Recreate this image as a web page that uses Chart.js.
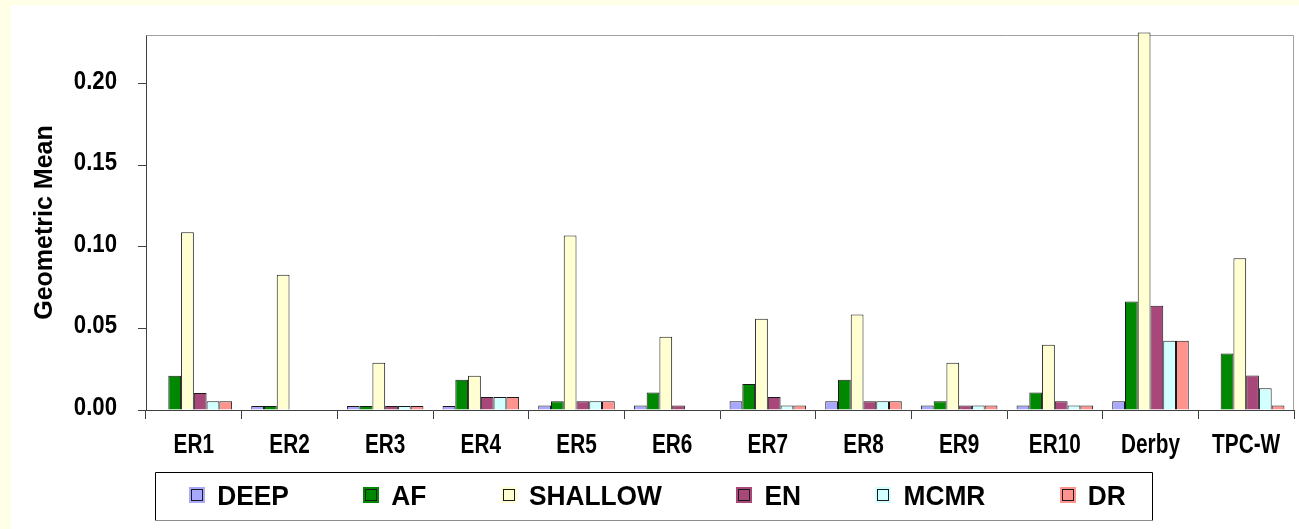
<!DOCTYPE html>
<html>
<head>
<meta charset="utf-8">
<title>Geometric Mean by workload</title>
<script src="https://cdn.jsdelivr.net/npm/chart.js@4.4.1/dist/chart.umd.min.js"></script>
<style>
  html, body { margin: 0; padding: 0; background: #ffffff; }
  canvas { display: block; }
</style>
</head>
<body>
<canvas id="chart" width="1299" height="529"></canvas>
<script>
// Workloads along the x axis
const categories = ['ER1', 'ER2', 'ER3', 'ER4', 'ER5', 'ER6', 'ER7', 'ER8', 'ER9', 'ER10', 'Derby', 'TPC-W'];

// Geometric mean per technique
const deep    = [0,      0.0025, 0.0025, 0.0025, 0.0027, 0.0027, 0.0053, 0.0053, 0.0027, 0.0027, 0.0053, 0];
const af      = [0.021,  0.0025, 0.0025, 0.0186, 0.0053, 0.0107, 0.016,  0.0186, 0.0053, 0.0107, 0.0666, 0.0347];
const shallow = [0.109,  0.083,  0.029,  0.021,  0.107,  0.045,  0.056,  0.0586, 0.029,  0.040,  0.2315, 0.093];
const en      = [0.0104, 0,      0.0025, 0.008,  0.0053, 0.0027, 0.008,  0.0053, 0.0027, 0.0053, 0.064,  0.0212];
const mcmr    = [0.0053, 0,      0.0025, 0.008,  0.0053, 0,      0.0027, 0.0053, 0.0027, 0.0027, 0.0425, 0.0133];
const dr      = [0.0053, 0,      0.0025, 0.008,  0.0053, 0,      0.0027, 0.0053, 0.0027, 0.0027, 0.0425, 0.0027];

const seriesNames = ['DEEP', 'AF', 'SHALLOW', 'EN', 'MCMR', 'DR'];
const seriesValues = [deep, af, shallow, en, mcmr, dr];
const seriesFills = ['#A8A8FF', '#008800', '#FFFFD2', '#A8487A', '#D2FFFF', '#FF948E'];

// Value axis
const yTicks = [0, 0.05, 0.10, 0.15, 0.20];
const yMax = 0.23;
const yTitle = 'Geometric Mean';

const SANS = "'Liberation Sans', Arial, sans-serif";

// Draws text squeezed horizontally by sx, anchored at (x, y)
function drawScaledText(ctx, text, x, y, sx, align) {
  ctx.save();
  ctx.translate(x, y);
  ctx.scale(sx, 1);
  ctx.textAlign = align;
  ctx.textBaseline = 'alphabetic';
  ctx.fillText(text, 0, 0);
  ctx.restore();
}

// Cream page with a white panel behind the chart
const pageBackground = {
  id: 'pageBackground',
  beforeDraw(chart) {
    const { ctx, width, height } = chart;
    ctx.save();
    ctx.fillStyle = '#FFFFE6';
    ctx.fillRect(0, 0, width, height);
    ctx.fillStyle = '#FFFFFF';
    ctx.fillRect(10, 5, width - 10, height - 5);
    ctx.restore();
  }
};

// Light frame on the top and right of the plot area
const plotFrame = {
  id: 'plotFrame',
  beforeDatasetsDraw(chart) {
    const { ctx, chartArea: a } = chart;
    ctx.save();
    ctx.strokeStyle = '#A0A0A0';
    ctx.lineWidth = 1;
    ctx.beginPath();
    ctx.moveTo(Math.round(a.left) + 0.5, Math.round(a.top) + 0.5);
    ctx.lineTo(Math.round(a.right) - 0.5, Math.round(a.top) + 0.5);
    ctx.lineTo(Math.round(a.right) - 0.5, Math.round(a.bottom));
    ctx.stroke();
    ctx.restore();
  }
};

// Condensed tick labels placed at the scales' own tick positions
const tickLabels = {
  id: 'tickLabels',
  afterDraw(chart) {
    const { ctx, scales: { x, y } } = chart;
    ctx.save();
    ctx.fillStyle = '#000000';
    ctx.font = 'bold 27px ' + SANS;
    x.ticks.forEach((t, i) => {
      drawScaledText(ctx, chart.data.labels[t.value], x.getPixelForTick(i), x.top + 43, 0.77, 'center');
    });
    ctx.font = 'bold 25.5px ' + SANS;
    y.ticks.forEach(t => {
      drawScaledText(ctx, t.value.toFixed(2), y.right - 29, y.getPixelForValue(t.value) + 4.9, 0.87, 'right');
    });
    ctx.restore();
  }
};

// Boxed single-row legend under the axis
const legendRow = {
  id: 'legendRow',
  afterDraw(chart) {
    const { ctx } = chart;
    const sx = 0.94;
    const marker = 16, markerGap = 12, itemGap = 74.5;
    const centerX = 657.5, textBase = 504.5, markerTop = 487;
    const boxTop = 472, boxBottom = 520, padLeft = 34, padRight = 26;
    ctx.save();
    ctx.font = 'bold 28px ' + SANS;
    const items = chart.data.datasets.map(ds => ({
      label: ds.label, fill: ds.backgroundColor, w: ctx.measureText(ds.label).width * sx
    }));
    const rowWidth = items.reduce((s, it) => s + marker + markerGap + it.w, 0) + itemGap * (items.length - 1);
    let x = centerX - rowWidth / 2;
    const left = Math.round(x - padLeft) + 0.5;
    const right = Math.round(x + rowWidth + padRight) + 0.5;
    ctx.fillStyle = '#FFFFFF';
    ctx.fillRect(left, boxTop, right - left, boxBottom - boxTop);
    ctx.lineWidth = 1;
    ctx.strokeStyle = '#000000';
    ctx.beginPath();
    ctx.moveTo(left, boxBottom + 0.5);
    ctx.lineTo(left, boxTop + 0.5);
    ctx.lineTo(right, boxTop + 0.5);
    ctx.lineTo(right, boxBottom + 0.5);
    ctx.stroke();
    ctx.strokeStyle = '#8C8C8C';
    ctx.beginPath();
    ctx.moveTo(left, boxBottom + 0.5);
    ctx.lineTo(right, boxBottom + 0.5);
    ctx.stroke();
    items.forEach(it => {
      const mx = Math.round(x);
      ctx.fillStyle = it.fill;
      ctx.fillRect(mx, markerTop, marker, marker);
      ctx.strokeStyle = '#1A1A1A';
      ctx.strokeRect(mx + 2.5, markerTop + 2.5, marker - 5, marker - 5);
      ctx.fillStyle = '#000000';
      drawScaledText(ctx, it.label, x + marker + markerGap, textBase, sx, 'left');
      x += marker + markerGap + it.w + itemGap;
    });
    ctx.restore();
  }
};

new Chart(document.getElementById('chart'), {
  type: 'bar',
  data: {
    labels: categories,
    datasets: seriesNames.map((name, i) => ({
      label: name,
      data: seriesValues[i],
      backgroundColor: seriesFills[i],
      borderColor: '#1A1A1A',
      borderWidth: 1,
      categoryPercentage: 0.8,
      barPercentage: 1.0,
      clip: false
    }))
  },
  options: {
    responsive: false,
    animation: false,
    devicePixelRatio: 1,
    layout: { padding: { left: 0, top: 35, right: 5, bottom: 69 } },
    plugins: {
      legend: { display: false },
      tooltip: { enabled: false },
      title: { display: false }
    },
    scales: {
      x: {
        grid: {
          offset: true,
          drawOnChartArea: false,
          drawTicks: true,
          tickLength: 9,
          color: '#404040'
        },
        border: { display: true, color: '#404040', width: 1 },
        ticks: { display: false, autoSkip: false, maxRotation: 0 },
        afterFit(scale) { scale.height = 50; }
      },
      y: {
        min: 0,
        max: yMax,
        grid: {
          drawOnChartArea: false,
          drawTicks: true,
          tickLength: 8,
          color: '#404040'
        },
        border: { display: true, color: '#404040', width: 1 },
        ticks: { display: false },
        afterBuildTicks(scale) {
          scale.ticks = yTicks.map(v => ({ value: v }));
        },
        title: {
          display: true,
          text: yTitle,
          color: '#000000',
          font: { family: SANS, size: 25, weight: 'bold' },
          padding: { top: 30, bottom: 0 }
        },
        afterFit(scale) { scale.width = 146; }
      }
    }
  },
  plugins: [pageBackground, plotFrame, tickLabels, legendRow]
});
</script>
</body>
</html>
